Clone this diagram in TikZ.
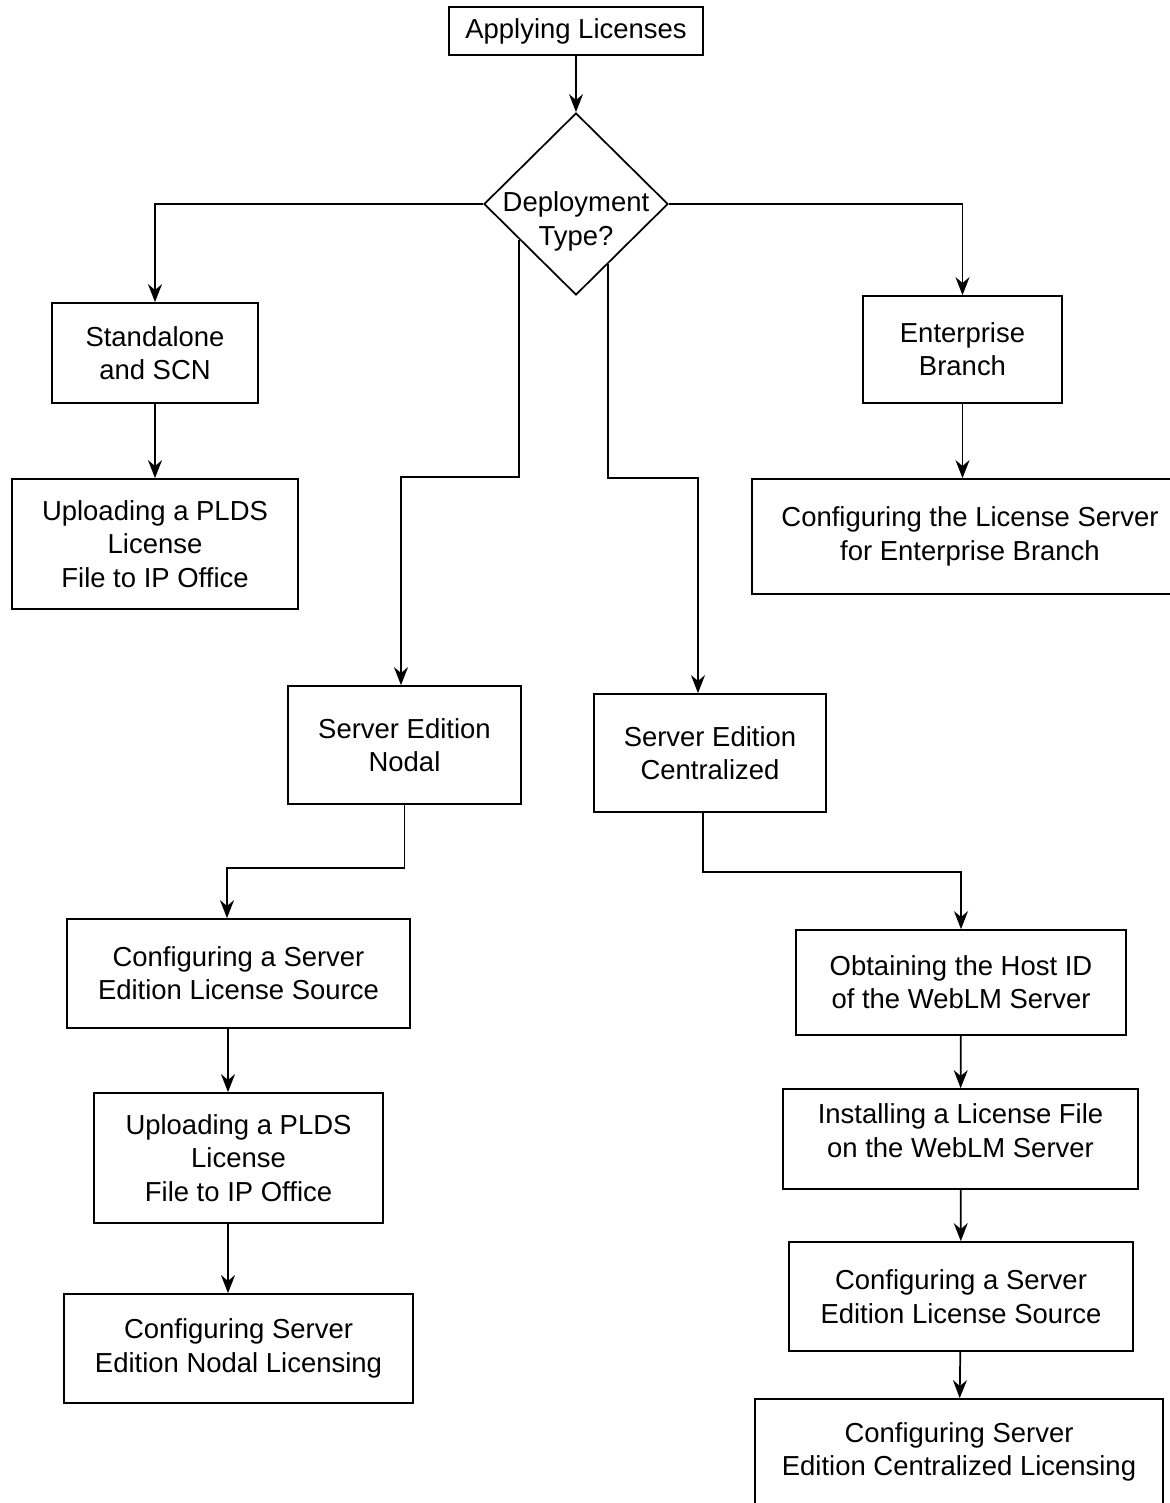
\documentclass[tikz,border=0pt]{standalone}
\usepackage{fontspec}
\setmainfont{Liberation Sans}
\usepackage{tikz}
\usetikzlibrary{arrows.meta, shapes.geometric}

\begin{document}
\begin{tikzpicture}[
  x=0.75pt, y=-0.75pt,
  block/.style={rectangle, draw, line width=1.3pt, inner sep=0pt, align=center, font=\fontsize{20.6pt}{25pt}\selectfont},
  decision/.style={diamond, draw, line width=1.3pt, inner xsep=-40pt, inner ysep=-20pt, align=center, font=\fontsize{20.6pt}{25pt}\selectfont},
  >={Stealth[length=13.5pt, width=10.5pt]}, line width=1.3pt
]
\useasboundingbox (0,0) rectangle (1170,1503);

\node[block, minimum width=190.5pt, minimum height=36pt] (apply) at (576,31) {Applying Licenses};
\node[decision, minimum width=138pt, minimum height=136.5pt, text height=64pt, text depth=2.5pt] (deploy) at (576,204) {Deployment\\Type?};

\node[block, minimum width=154.5pt, minimum height=75pt] (stand) at (155,353) {Standalone\\and SCN};
\node[block, minimum width=214.5pt, minimum height=97.5pt] (upl) at (155,544) {Uploading a PLDS\\License\\File to IP Office};
\node[block, minimum width=149.25pt, minimum height=80.25pt] (ent) at (962.5,349.5) {Enterprise\\Branch};
\node[block, minimum width=327pt, minimum height=86.25pt] (cfgeb) at (970,536.5) {Configuring the License Server\\for Enterprise Branch};

\node[block, minimum width=174.75pt, minimum height=88.5pt] (nodal) at (404.5,745) {Server Edition\\Nodal};
\node[block, minimum width=174pt, minimum height=88.5pt] (cent) at (710,753) {Server Edition\\Centralized};

\node[block, minimum width=257.25pt, minimum height=81.75pt] (cfgA) at (238.5,973.5) {Configuring a Server\\Edition License Source};
\node[block, minimum width=216.75pt, minimum height=97.5pt] (uplA) at (238.5,1158) {Uploading a PLDS\\License\\File to IP Office};
\node[block, minimum width=261.75pt, minimum height=81.75pt] (licA) at (238.5,1348.5) {Configuring Server\\Edition Nodal Licensing};

\node[block, minimum width=247.5pt, minimum height=78.75pt] (obtain) at (961,982.5) {Obtaining the Host ID\\of the WebLM Server};
\node[block, minimum width=266.25pt, minimum height=75pt, text height=40pt, text depth=13pt] (install) at (960.5,1139) {Installing a License File\\on the WebLM Server};
\node[block, minimum width=258pt, minimum height=81.75pt] (cfgB) at (961,1296.5) {Configuring a Server\\Edition License Source};
\node[block, minimum width=306pt, minimum height=79.5pt] (licB) at (959,1452) {Configuring Server\\Edition Centralized Licensing};

% bends of the routed connectors
\coordinate (nodsplit) at (401,477);
\coordinate (centsplit) at (698,478);
\coordinate (nodturn) at (227,868);
\coordinate (centturn) at (703,872);
\coordinate (colA) at (228,0);

\draw[->] (apply) -- (deploy);
\draw[->] (deploy.west) -| (stand.north);
\draw[->] (deploy.east) -| (ent.north);
\draw[->] (deploy.-148) |- (nodsplit) -- (nodsplit |- nodal.north);
\draw[->] (deploy.-62) |- (centsplit) -- (centsplit |- cent.north);
\draw[->] (stand) -- (upl);
\draw[->] (ent) -- (ent |- cfgeb.north);

\draw[->] (nodal.south) |- (nodturn) -- (nodturn |- cfgA.north);
\draw[->] (cfgA.south -| colA) -- (uplA.north -| colA);
\draw[->] (uplA.south -| colA) -- (licA.north -| colA);

\draw[->] (cent.south -| centturn) -- (centturn) -| (obtain.north);
\draw[->] (obtain) -- (install);
\draw[->] (install) -- (cfgB);
\draw[->] (cfgB) -- (licB);
\end{tikzpicture}
\end{document}
